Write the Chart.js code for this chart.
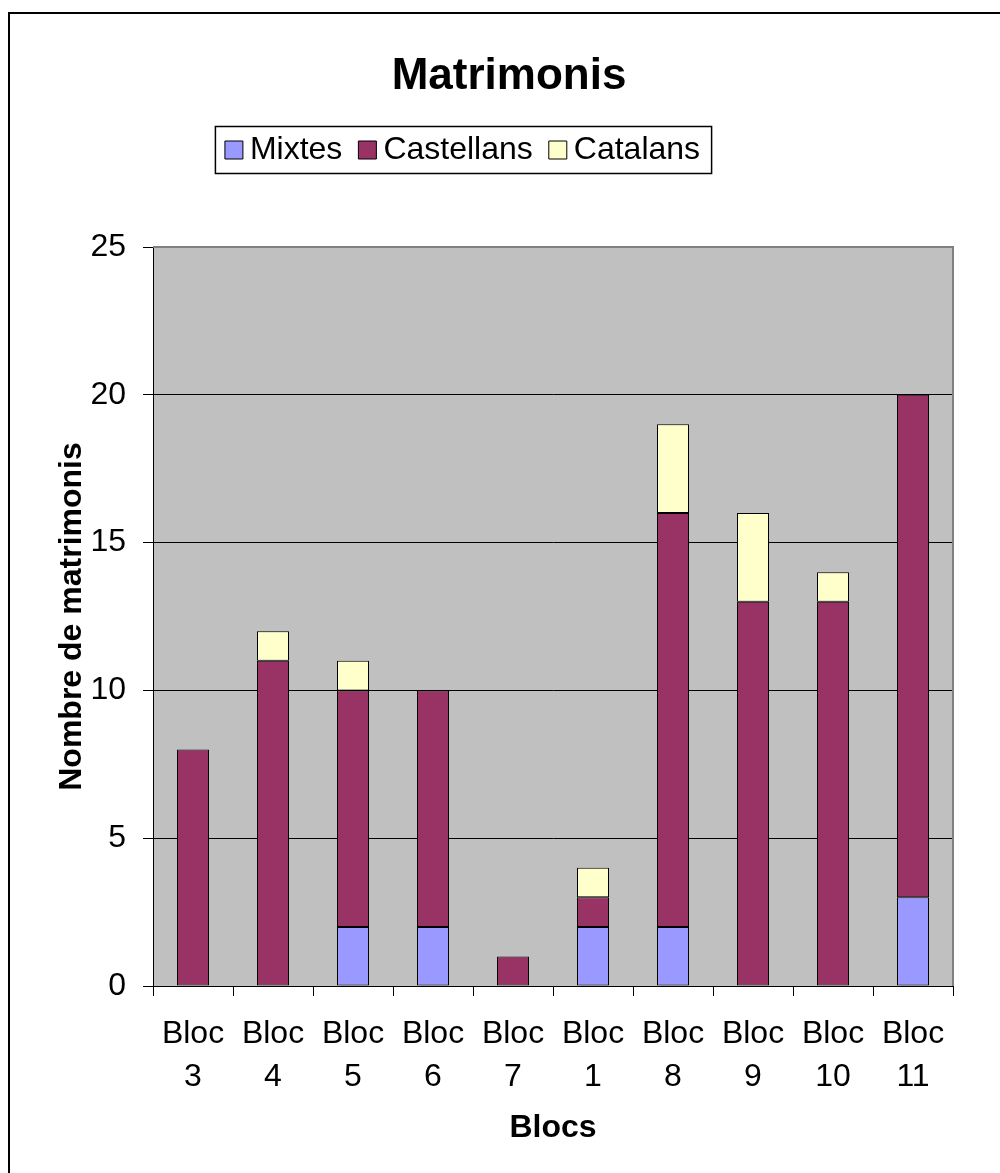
<!DOCTYPE html>
<html>
<head>
<meta charset="utf-8">
<script src="https://cdn.jsdelivr.net/npm/chart.js@4"></script>
<style>
html,body{margin:0;padding:0;background:#fff;}
#wrap{width:1000px;height:1173px;position:relative;}
</style>
</head>
<body>
<div id="wrap"><canvas id="c" width="1000" height="1173"></canvas></div>
<script>
const chartTitle = 'Matrimonis';
const categories = [['Bloc','3'],['Bloc','4'],['Bloc','5'],['Bloc','6'],['Bloc','7'],['Bloc','1'],['Bloc','8'],['Bloc','9'],['Bloc','10'],['Bloc','11']];
const seriesNames = ['Mixtes','Castellans','Catalans'];
const mixtes = [0,0,2,2,0,2,2,0,0,3];
const castellans = [8,11,8,8,1,1,14,13,13,17];
const catalans = [0,1,1,0,0,1,3,3,1,0];
const yMin = 0, yMax = 25, yStep = 5;
const xTitle = 'Blocs';
const yTitle = 'Nombre de matrimonis';

const FONT = "'Liberation Sans', Arial, Helvetica, sans-serif";
const LEGEND_HALF_BOX = 9;

function legendFrame(lg) {
  const hb = lg.legendHitBoxes;
  if (!hb || !hb.length) return null;
  const first = hb[0], last = hb[hb.length - 1];
  const cy = first.top + first.height / 2;
  const x0 = first.left - LEGEND_HALF_BOX - 9.5;
  const x1 = last.left + last.width + 11.5;
  return {x0, x1, cy};
}

const decor = {
  id: 'decor',
  beforeDraw(chart) {
    const {ctx, chartArea: a} = chart;
    ctx.save();
    ctx.fillStyle = '#ffffff';
    ctx.fillRect(0, 0, chart.width, chart.height);
    ctx.fillStyle = '#C0C0C0';
    ctx.fillRect(a.left, a.top, a.right - a.left, a.bottom - a.top);
    ctx.restore();
  },
  afterUpdate(chart) {
    const lg = chart.legend;
    if (!lg) return;
    const f = legendFrame(lg);
    if (!f) return;
    const shift = 463.5 - (f.x0 + f.x1) / 2;
    lg.left += shift; lg.right += shift;
    lg.legendHitBoxes.forEach(h => { h.left += shift; });
  },
  afterDraw(chart) {
    const {ctx, chartArea: a} = chart;
    ctx.save();
    ctx.strokeStyle = '#808080';
    ctx.lineWidth = 2;
    ctx.beginPath();
    ctx.moveTo(a.left, a.top);
    ctx.lineTo(a.right, a.top);
    ctx.lineTo(a.right, a.bottom);
    ctx.stroke();
    const f = legendFrame(chart.legend);
    if (f) {
      ctx.strokeStyle = '#000';
      ctx.lineWidth = 1.5;
      ctx.strokeRect(f.x0, f.cy - 23.5, f.x1 - f.x0, 47);
    }
    ctx.strokeStyle = '#000';
    ctx.lineWidth = 2;
    ctx.strokeRect(9, 13, 1300, 1300);
    ctx.restore();
  }
};

new Chart(document.getElementById('c'), {
  type: 'bar',
  data: {
    labels: categories,
    datasets: [
      {label: seriesNames[0], data: mixtes, backgroundColor: '#9999FF'},
      {label: seriesNames[1], data: castellans, backgroundColor: '#993366'},
      {label: seriesNames[2], data: catalans, backgroundColor: '#FFFFCC'}
    ]
  },
  options: {
    responsive: false,
    animation: false,
    devicePixelRatio: 1,
    layout: {padding: {left: 65, right: 47, top: 0, bottom: 0}},
    datasets: {
      bar: {
        barPercentage: 0.4,
        categoryPercentage: 1.0,
        borderColor: '#000000',
        borderWidth: 1,
        borderSkipped: false,
        inflateAmount: 0
      }
    },
    plugins: {
      title: {
        display: true,
        text: chartTitle,
        color: '#000',
        font: {family: FONT, size: 44, weight: 'bold'},
        padding: {top: 50, bottom: 6.2}
      },
      subtitle: {
        display: true,
        text: ' ',
        weight: 500,
        font: {family: FONT, size: 10},
        padding: {top: 0, bottom: 59}
      },
      legend: {
        display: true,
        position: 'top',
        labels: {
          color: '#000',
          font: {family: FONT, size: 32},
          usePointStyle: true,
          pointStyle: 'rect',
          boxWidth: 0.01,
          boxHeight: 18,
          padding: 25
        }
      },
      tooltip: {enabled: false}
    },
    scales: {
      x: {
        stacked: true,
        offset: true,
        grid: {
          display: true,
          offset: true,
          drawOnChartArea: false,
          drawTicks: true,
          tickLength: 10,
          color: '#000',
          lineWidth: 1
        },
        border: {display: true, color: '#000', width: 1},
        ticks: {
          color: '#000',
          font: {family: FONT, size: 32, lineHeight: '43px'},
          padding: 16.5,
          maxRotation: 0,
          autoSkip: false
        },
        title: {
          display: true,
          text: xTitle,
          color: '#000',
          font: {family: FONT, size: 32, weight: 'bold'},
          padding: {top: 0, bottom: 25.8}
        },
        afterFit(s) { s.height = 187; }
      },
      y: {
        stacked: true,
        min: yMin,
        max: yMax,
        grid: {
          display: true,
          drawOnChartArea: true,
          drawTicks: true,
          tickLength: 10,
          color: '#000',
          lineWidth: 1
        },
        border: {display: true, color: '#000', width: 1},
        ticks: {
          stepSize: yStep,
          color: '#000',
          font: {family: FONT, size: 32},
          padding: 17
        },
        title: {
          display: true,
          text: yTitle,
          color: '#000',
          font: {family: FONT, size: 32, weight: 'bold'},
          padding: {top: -12, bottom: 0}
        },
        afterFit(s) { s.width = 88; }
      }
    }
  },
  plugins: [decor]
});
</script>
</body>
</html>
